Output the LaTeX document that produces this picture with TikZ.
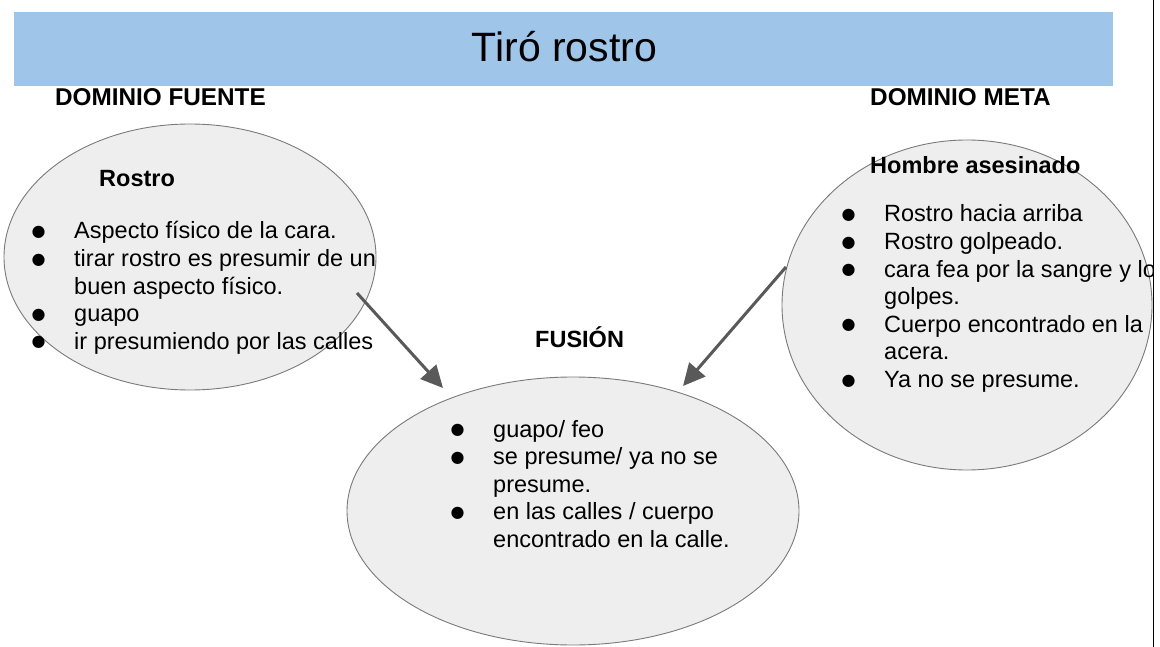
\documentclass[tikz,border=0pt]{standalone}
\usepackage{fontspec}
\setmainfont{Liberation Sans}
\newfontfamily\dejavu{DejaVu Sans}
\usetikzlibrary{arrows.meta,shapes.geometric}
\definecolor{titlebar}{HTML}{9FC5E8}
\definecolor{ellfill}{HTML}{EEEEEE}
\definecolor{ellline}{HTML}{7A7A7A}
\definecolor{arrowc}{HTML}{595959}
\newcommand\bu{\makebox[0pt][r]{\raisebox{2.5pt}{\dejavu\fontsize{16}{16}\selectfont ●}\hspace{28.5pt}}}
\newcommand\lst[1]{\begin{tabular}[t]{@{}l@{}}#1\end{tabular}}
\tikzset{
  ell/.style={ellipse, draw=ellline, fill=ellfill, line width=0.9pt, inner sep=0pt},
  body/.style={inner sep=0pt, anchor=base west, font=\fontsize{23.5}{27.6}\selectfont},
  head/.style={inner sep=0pt, anchor=base west, font=\fontsize{23.5}{27.6}\selectfont\bfseries},
  domlabel/.style={inner sep=0pt, anchor=base west, font=\fontsize{24.3}{28}\selectfont\bfseries},
  conn/.style={draw=arrowc, line width=3pt, -{Triangle[length=22pt,width=21pt]}},
}
\begin{document}
\begin{tikzpicture}[x=1pt,y=-1pt]
\useasboundingbox (0,0) rectangle (1160,647);
\fill[white] (0,0) rectangle (1160,647);
\begin{scope}
\clip (0,0) rectangle (1153,647);
\node[fill=titlebar, minimum width=1099pt, minimum height=74pt, inner sep=0pt, anchor=north west] (bar) at (14,12) {};
\node[inner sep=0pt, anchor=base, font=\fontsize{41}{48}\selectfont] (title) at (564.5,62) {Tiró rostro};
\node[domlabel] (dfu) at (55,106) {DOMINIO FUENTE};
\node[domlabel] (dme) at (870,106) {DOMINIO META};
\node[ell, minimum width=372pt, minimum height=266pt] (src) at (190,257) {};
\node[ell, minimum width=370pt, minimum height=330pt] (tgt) at (967,305) {};
\node[ell, minimum width=452pt, minimum height=268pt] (fus) at (573,511) {};
\node[head] (rostro) at (99,187) {Rostro};
\node[body] (srclist) at (74,239) {\lst{\bu Aspecto físico de la cara.\\ \bu tirar rostro es presumir de un\\ buen aspecto físico.\\ \bu guapo\\ \bu ir presumiendo por las calles}};
\node[head] (hombre) at (870,174) {Hombre asesinado};
\node[body] (tgtlist) at (884,222) {\lst{\bu Rostro hacia arriba\\ \bu Rostro golpeado.\\ \bu cara fea por la sangre y los\\ golpes.\\ \bu Cuerpo encontrado en la\\ acera.\\ \bu Ya no se presume.}};
\node[head] (fusion) at (535,347) {FUSIÓN};
\node[body] (fuslist) at (493,437) {\lst{\bu guapo/ feo\\ \bu se presume/ ya no se\\ presume.\\ \bu en las calles / cuerpo\\ encontrado en la calle.}};
\coordinate (a1s) at (357,293);
\coordinate (a1e) at (443,388);
\coordinate (a2s) at (786,267);
\coordinate (a2e) at (683,386);
\draw[conn] (a1s) -- (a1e);
\draw[conn] (a2s) -- (a2e);
\end{scope}
\coordinate (edgetop) at (1153.5,0);
\coordinate (edgebot) at (1153.5,647);
\draw[black, line width=1.5pt] (edgetop) -- (edgebot);
\end{tikzpicture}
\end{document}
